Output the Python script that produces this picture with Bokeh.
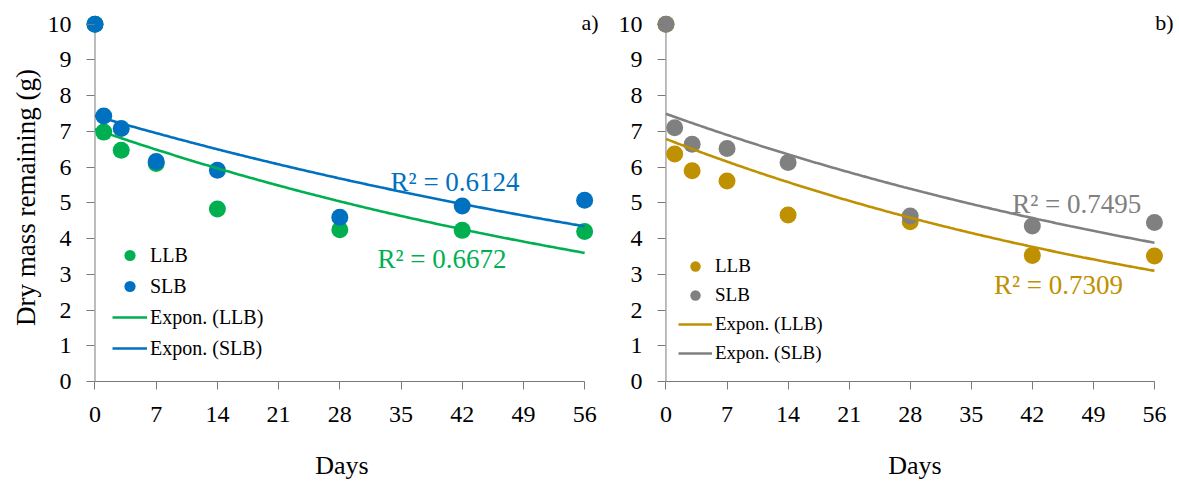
import numpy as np
from bokeh.plotting import figure
from bokeh.models import Range1d, Legend, LegendItem, Label, FixedTicker
from bokeh.layouts import row
from bokeh.embed import file_html
from bokeh.resources import INLINE

# ---------------- data ----------------
days = [0, 1, 3, 7, 14, 28, 42, 56]
a_llb = [10.0, 6.98, 6.47, 6.10, 4.83, 4.25, 4.23, 4.20]
a_slb = [10.0, 7.43, 7.08, 6.16, 5.91, 4.60, 4.91, 5.07]
b_llb = [10.0, 6.37, 5.90, 5.61, 4.66, 4.47, 3.53, 3.51]
b_slb = [10.0, 7.10, 6.64, 6.52, 6.13, 4.63, 4.35, 4.45]
x_ticks = [0, 7, 14, 21, 28, 35, 42, 49, 56]
y_ticks = [0, 1, 2, 3, 4, 5, 6, 7, 8, 9, 10]
series_names = ["LLB", "SLB"]
trend_names = ["Expon. (LLB)", "Expon. (SLB)"]
a_r2 = ["R\u00b2 = 0.6672", "R\u00b2 = 0.6124"]
b_r2 = ["R\u00b2 = 0.7309", "R\u00b2 = 0.7495"]
panel_tags = ["a)", "b)"]
y_title = "Dry mass remaining (g)"
x_title = "Days"

FONT = "Liberation Serif"
AXIS_COLOR = "#7a7a7a"


def expfit(x, y):
    b, ln_a = np.polyfit(np.asarray(x, float), np.log(np.asarray(y, float)), 1)
    xs = np.linspace(min(x), max(x), 200)
    return xs, np.exp(ln_a + b * xs)


def make_panel(width, border_left, border_right, x_end, llb, slb, colors, r2,
               r2_pos, tag, leg_loc, leg_gw, leg_gh, leg_font, with_ytitle):
    p = figure(width=width, height=482,
               x_range=Range1d(-1.2, x_end), y_range=Range1d(0, 10.3),
               output_backend="svg", toolbar_location=None,
               min_border_left=border_left, min_border_right=border_right,
               min_border_top=13, min_border_bottom=101)
    p.xgrid.visible = False
    p.ygrid.visible = False
    p.outline_line_color = None
    p.background_fill_color = "white"
    p.border_fill_color = "white"

    for ax in (p.xaxis[0], p.yaxis[0]):
        ax.axis_line_width = 1
        ax.major_tick_line_color = AXIS_COLOR
        ax.minor_tick_line_color = None
        ax.minor_tick_out = 0
        ax.minor_tick_in = 0
        ax.major_label_text_font = FONT
        ax.major_label_text_font_size = "24px"
        ax.major_label_text_color = "black"
        ax.axis_label_text_font = FONT
        ax.axis_label_text_font_style = "normal"
        ax.axis_label_text_color = "black"

    # x axis
    xa = p.xaxis[0]
    xa.ticker = FixedTicker(ticks=x_ticks)
    xa.bounds = (x_ticks[0], x_ticks[-1])
    xa.axis_line_color = AXIS_COLOR
    xa.major_tick_out = 8
    xa.major_tick_in = 0
    xa.major_label_standoff = 17
    xa.axis_label = x_title
    xa.axis_label_text_font_size = "26px"
    xa.axis_label_standoff = 26

    # y axis: labels from the frame edge, axis line drawn at day 0
    ya = p.yaxis[0]
    ya.ticker = FixedTicker(ticks=y_ticks)
    ya.bounds = (y_ticks[0], y_ticks[-1])
    ya.axis_line_color = None
    ya.major_tick_in = 10
    ya.major_tick_out = -2
    ya.major_label_standoff = 13
    if with_ytitle:
        ya.axis_label = y_title
        ya.axis_label_text_font_size = "27px"
        ya.axis_label_standoff = 4

    p.segment(x0=[x_ticks[0]], y0=[y_ticks[0]], x1=[x_ticks[0]], y1=[y_ticks[-1]],
              line_color=AXIS_COLOR, line_width=1)

    r_llb = p.scatter(days, llb, size=17, color=colors[0], line_color=None)
    r_slb = p.scatter(days, slb, size=17, color=colors[1], line_color=None)
    xs, ys = expfit(days, llb)
    t_llb = p.line(xs, ys, line_width=2.6, color=colors[0])
    xs, ys = expfit(days, slb)
    t_slb = p.line(xs, ys, line_width=2.6, color=colors[1])

    legend = Legend(items=[
        LegendItem(label=series_names[0], renderers=[r_llb]),
        LegendItem(label=series_names[1], renderers=[r_slb]),
        LegendItem(label=trend_names[0], renderers=[t_llb]),
        LegendItem(label=trend_names[1], renderers=[t_slb]),
    ], location=leg_loc, glyph_width=leg_gw, glyph_height=leg_gh, spacing=3,
        padding=0, margin=0, label_standoff=3, border_line_color=None,
        background_fill_alpha=0, label_text_font=FONT,
        label_text_font_size=leg_font, label_text_color="black")
    p.add_layout(legend)

    for i in range(2):
        p.add_layout(Label(x=r2_pos[i][0], y=r2_pos[i][1], text=r2[i],
                           text_font=FONT, text_font_size="27px",
                           text_color=colors[i], text_baseline="alphabetic",
                           text_align="left"))

    p.add_layout(Label(x=x_end - 0.1, y=10.05, text=tag, text_font=FONT,
                       text_font_size="22px", text_color="black",
                       text_align="right", text_baseline="alphabetic"))
    return p


p1 = make_panel(600, 84, 1, 57.7, a_llb, a_slb, ["#00B050", "#0070C0"], a_r2,
                [(32.3, 3.42), (33.8, 5.57)], panel_tags[0],
                (28, 19), 35, 28, "20px", True)
p2 = make_panel(579, 55, 5, 58.3, b_llb, b_slb, ["#BF9000", "#808080"], b_r2,
                [(37.6, 2.69), (39.7, 4.96)], panel_tags[1],
                (23, 15), 34, 26, "19px", False)

layout = row(p1, p2)
open("out.html", "w").write(file_html(layout, INLINE))
